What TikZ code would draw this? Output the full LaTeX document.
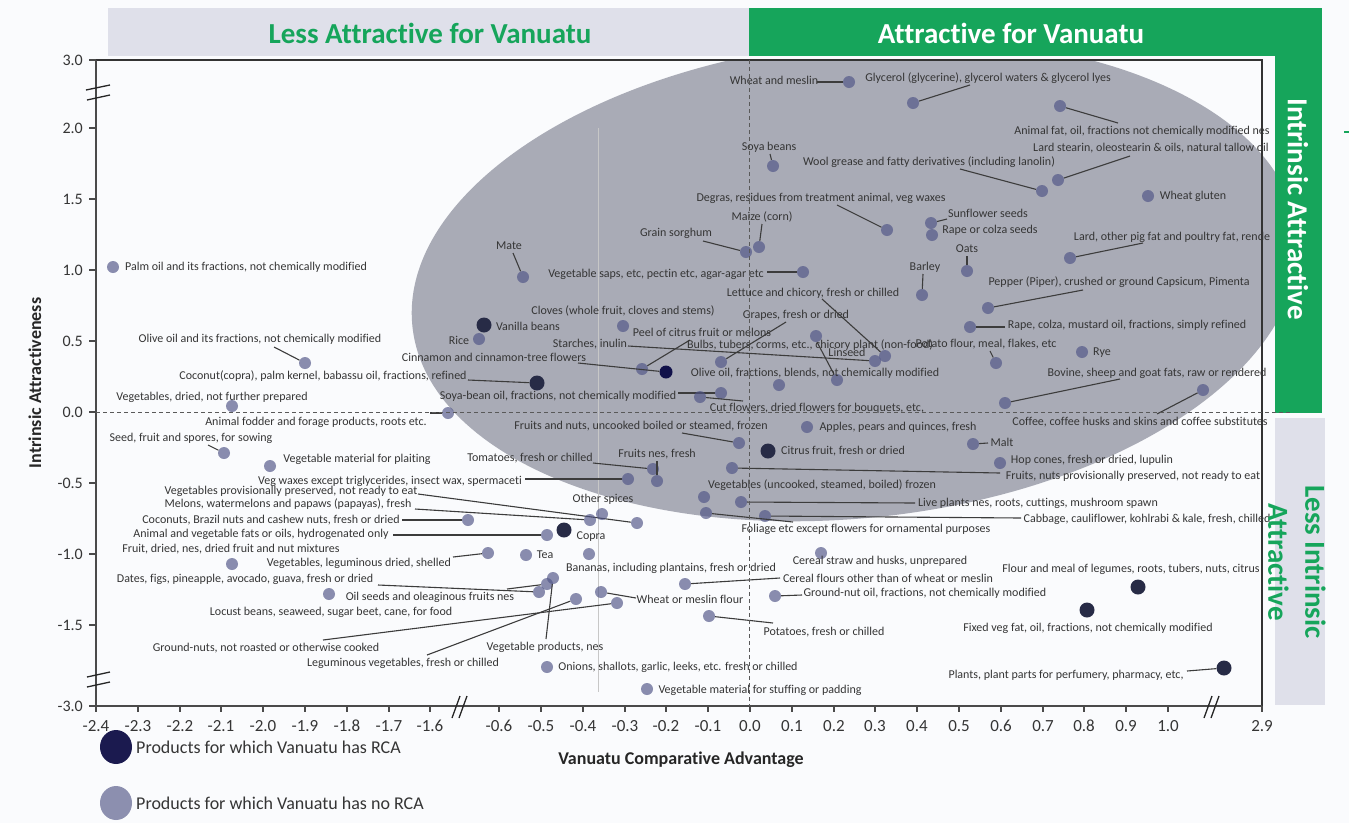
\documentclass[tikz,border=0pt]{standalone}
\usepackage{fontspec}
\setmainfont{Carlito}[Ligatures=NoCommon]
\usetikzlibrary{shapes.geometric}
\definecolor{bg}{HTML}{FAFBFD}
\definecolor{band}{HTML}{DFE0EA}
\definecolor{vgreen}{HTML}{16A55B}
\definecolor{ellcol}{HTML}{A9ABB6}
\definecolor{gpcol}{RGB}{79,84,134}
\definecolor{dpcol}{HTML}{272B46}
\definecolor{navy}{HTML}{11114A}
\definecolor{txtcol}{HTML}{353535}
\definecolor{leadcol}{HTML}{3C3C3C}
\definecolor{axcol}{HTML}{4A4A4A}
\definecolor{legdark}{HTML}{1B1A4F}
\definecolor{leglight}{HTML}{8C8FAF}
% one product: name, marker style, marker position, label centre, label text
\newcommand\mkprod[5]{\node[#2] (#1) at (#3) {}; \node[lbl] (#1-t) at (#4) {#5};}
% leader from a point beside the label to the marker
\newcommand\mklead[2]{\coordinate (#1-e) at (#2); \draw[lead] (#1-e) -- (#1);}
\begin{document}
\begin{tikzpicture}[x=1pt,y=-1pt,
  gp/.style={circle,fill=gpcol,fill opacity=0.66,minimum size=12pt,inner sep=0pt},
  dp/.style={circle,fill=dpcol,minimum size=15pt,inner sep=0pt},
  navyp/.style={circle,fill=navy,minimum size=13pt,inner sep=0pt},
  lbl/.style={text=txtcol,font=\fontsize{12}{14}\selectfont,inner sep=0pt},
  lead/.style={draw=leadcol,line width=1.1pt},
  axisln/.style={draw=axcol,line width=1.8pt},
  frame/.style={draw=black!80,line width=1.6pt},
  brk/.style={draw=black!85,line width=1.3pt},
  ytick/.style={text=txtcol,font=\fontsize{16}{19}\selectfont,inner sep=0pt,anchor=east},
  xtick/.style={text=txtcol,font=\fontsize{17}{20}\selectfont,inner sep=0pt},
  axtitle/.style={text=black!85,font=\bfseries\fontsize{18}{21}\selectfont,inner sep=0pt},
  bigtitle/.style={font=\bfseries\fontsize{29}{37}\selectfont,inner sep=0pt},
  legtext/.style={anchor=west,text=txtcol,font=\fontsize{18}{21}\selectfont,inner sep=0pt},
  legmark/.style={ellipse,minimum width=32pt,minimum height=34pt,inner sep=0pt},
  zeroline/.style={draw=black!65,line width=1pt,dash pattern=on 4pt off 3pt}]
\useasboundingbox (0,0) rectangle (1349,823);
\fill[bg] (0,0) rectangle (1349,823);

% header bands
\fill[band] (108,8) rectangle (749,56);
\fill[vgreen] (749,8) rectangle (1322,56);
\node[bigtitle,text=vgreen] (hdrL) at (430,33) {Less Attractive for Vanuatu};
\node[bigtitle,text=white] (hdrR) at (1011,33) {Attractive for Vanuatu};

% shaded region of attractive products
\begin{scope}
  \clip (96,60) rectangle (1275,706);
  \fill[ellcol,rotate around={6:(855,280)}] (855,280) ellipse [x radius=445, y radius=238];
\end{scope}
\draw[draw=black!22,line width=0.8pt] (598,128) -- (598,692);

% frame and axes
\draw[frame] (96,60) -- (1262,60) -- (1262,706);
\draw[axisln] (96,60) -- (96,706) -- (1262,706);
\foreach \v/\y [count=\i] in {3.0/60,2.0/128,1.5/199,1.0/270,0.5/341,0.0/412,-0.5/483,-1.0/554,-1.5/625,-3.0/706}{
  \draw[axisln,line width=1.3pt] (89,\y) -- (96,\y);
  \node[ytick] (yt\i) at (83,\y) {\v};
}
\foreach \v/\x [count=\i] in {-2.4/96,-2.3/138,-2.2/180,-2.1/221,-2.0/263,-1.9/305,-1.8/347,-1.7/389,-1.6/430,
  -0.6/499,-0.5/541,-0.4/583,-0.3/625,-0.2/666,-0.1/708,0.0/750,0.1/792,0.2/834,0.3/875,0.4/917,
  0.5/959,0.6/1001,0.7/1043,0.8/1084,0.9/1126,1.0/1168,2.9/1262}{
  \draw[axisln,line width=1.3pt] (\x,706) -- (\x,712);
  \node[xtick] (xt\i) at (\x,726) {\v};
}
% axis breaks
\draw[brk] (86,90) -- (110,85);
\draw[brk] (87,100) -- (110,95);
\draw[brk] (87,677) -- (110,672);
\draw[brk] (87,687) -- (110,682);
\draw[brk] (452,718) -- (460,696);
\draw[brk] (459,718) -- (467,696);
\draw[brk] (1204,718) -- (1212,696);
\draw[brk] (1211,718) -- (1219,696);

% axis titles
\node[axtitle,rotate=90] (ytitle) at (35,383) {Intrinsic Attractiveness};
\node[axtitle] (xtitle) at (681,760) {Vanuatu Comparative Advantage};

% products
\mkprod{p1}{gp}{849,82}{774,80}{Wheat and meslin} \mklead{p1}{817,82}
\mkprod{p2}{gp}{913,103}{988,78}{Glycerol (glycerine), glycerol waters \& glycerol lyes} \mklead{p2}{970,85}
\mkprod{p3}{gp}{1060,106}{1142,131}{Animal fat, oil, fractions not chemically modified nes} \mklead{p3}{1118,123}
\mkprod{p4}{gp}{773,166}{769,147}{Soya beans} \mklead{p4}{770,154}
\mkprod{p5}{gp}{1042,191}{929,162}{Wool grease and fatty derivatives (including lanolin)} \mklead{p5}{960,169}
\mkprod{p6}{gp}{1058,180}{1151,148}{Lard stearin, oleostearin \& oils, natural tallow oil} \mklead{p6}{1130,156}
\mkprod{p7}{gp}{1148,196}{1193,196}{Wheat gluten}
\mkprod{p8}{gp}{887,230}{821,198}{Degras, residues from treatment animal, veg waxes} \mklead{p8}{837,205}
\mkprod{p9}{gp}{931,223}{988,213}{Sunflower seeds} \mklead{p9}{947,219}
\mkprod{p10}{gp}{932,235}{990,230}{Rape or colza seeds}
\mkprod{p11}{gp}{1070,258}{1172,237}{Lard, other pig fat and poultry fat, rende} \mklead{p11}{1143,243}
\mkprod{p12}{gp}{759,247}{762,217}{Maize (corn)} \mklead{p12}{762,224}
\mkprod{p13}{gp}{746,252}{676,233}{Grain sorghum} \mklead{p13}{703,241}
\mkprod{p14}{gp}{523,277}{509,246}{Mate} \mklead{p14}{513,253}
\mkprod{p15}{gp}{803,272}{656,274}{Vegetable saps, etc, pectin etc, agar-agar etc} \mklead{p15}{767,272}
\mkprod{p16}{gp}{967,271}{967,249}{Oats} \mklead{p16}{967,256}
\mkprod{p17}{gp}{922,295}{925,267}{Barley} \mklead{p17}{923,274}
\mkprod{p18}{gp}{885,356}{813,293}{Lettuce and chicory, fresh or chilled} \mklead{p18}{822,299}
\mkprod{p19}{gp}{988,308}{1119,282}{Pepper (Piper), crushed or ground Capsicum, Pimenta} \mklead{p19}{1083,290}
\mkprod{p20}{gp}{113,267}{246,267}{Palm oil and its fractions, not chemically modified}
\mkprod{p21}{gp}{970,327}{1127,325}{Rape, colza, mustard oil, fractions, simply refined} \mklead{p21}{1005,327}
\mkprod{p22}{gp}{996,363}{986,344}{Potato flour, meal, flakes, etc} \mklead{p22}{990,351}
\mkprod{p23}{gp}{1082,352}{1102,353}{Rye}
\mkprod{p24}{gp}{1005,403}{1157,373}{Bovine, sheep and goat fats, raw or rendered} \mklead{p24}{1120,379}
\mkprod{p25}{gp}{1203,390}{1140,422}{Coffee, coffee husks and skins and coffee substitutes} \mklead{p25}{1157,414}
\mkprod{p26}{gp}{973,444}{1002,442}{Malt} \mklead{p26}{988,443}
\mkprod{p27}{gp}{1000,463}{1092,460}{Hop cones, fresh or dried, lupulin}
\mkprod{p28}{gp}{732,468}{1133,476}{Fruits, nuts provisionally preserved, not ready to eat} \mklead{p28}{1000,473}
\mkprod{p29}{gp}{704,497}{822,485}{Vegetables (uncooked, steamed, boiled) frozen}
\mkprod{p30}{gp}{741,502}{1038,503}{Live plants nes, roots, cuttings, mushroom spawn} \mklead{p30}{915,503}
\mkprod{p31}{gp}{765,516}{1147,519}{Cabbage, cauliflower, kohlrabi \& kale, fresh, chilled} \mklead{p31}{1021,518}
\mkprod{p32}{gp}{706,513}{866,529}{Foliage etc except flowers for ornamental purposes} \mklead{p32}{793,522}
\mkprod{p33}{gp}{623,326}{623,311}{Cloves (whole fruit, cloves and stems)}
\mkprod{p34}{dp}{484,325}{528,326}{Vanilla beans}
\mkprod{p35}{gp}{479,339}{459,340}{Rice}
\mkprod{p36}{gp}{721,362}{796,315}{Grapes, fresh or dried} \mklead{p36}{786,322}
\mkprod{p37}{gp}{642,369}{702,332}{Peel of citrus fruit or melons} \mklead{p37}{690,340}
\mkprod{p38}{gp}{875,361}{590,344}{Starches, inulin} \mklead{p38}{628,346}
\mkprod{p39}{gp}{816,336}{810,345}{Bulbs, tubers, corms, etc., chicory plant (non-food)}
\mkprod{p40}{gp}{837,380}{847,352}{Linseed} \mklead{p40}{817,342}
\mkprod{p41}{navyp}{666,372}{494,357}{Cinnamon and cinnamon-tree flowers} \mklead{p41}{578,363}
\mkprod{p42}{dp}{537,383}{323,376}{Coconut(copra), palm kernel, babassu oil, fractions, refined} \mklead{p42}{468,380}
\mkprod{p43}{gp}{305,363}{260,339}{Olive oil and its fractions, not chemically modified} \mklead{p43}{274,347}
\mkprod{p44}{gp}{779,385}{815,373}{Olive oil, fractions, blends, not chemically modified}
\mkprod{p45}{gp}{721,393}{558,396}{Soya-bean oil, fractions, not chemically modified} \mklead{p45}{678,393}
\mkprod{p46}{gp}{700,397}{817,408}{Cut flowers, dried flowers for bouquets, etc,} \mklead{p46}{743,401}
\mkprod{p47}{gp}{448,413}{316,422}{Animal fodder and forage products, roots etc.} \mklead{p47}{430,413}
\mkprod{p48}{gp}{232,406}{212,397}{Vegetables, dried, not further prepared}
\mkprod{p49}{gp}{739,443}{641,426}{Fruits and nuts, uncooked boiled or steamed, frozen} \mklead{p49}{682,433}
\mkprod{p50}{gp}{807,427}{898,427}{Apples, pears and quinces, fresh}
\mkprod{p51}{dp}{768,451}{843,451}{Citrus fruit, fresh or dried}
\mkprod{p52}{gp}{224,453}{191,438}{Seed, fruit and spores, for sowing} \mklead{p52}{208,445}
\mkprod{p53}{gp}{270,466}{357,459}{Vegetable material for plaiting}
\mkprod{p54}{gp}{653,469}{530,458}{Tomatoes, fresh or chilled} \mklead{p54}{593,463}
\mkprod{p55}{gp}{657,481}{657,454}{Fruits nes, fresh} \mklead{p55}{657,461}
\mkprod{p56}{gp}{628,479}{390,481}{Veg waxes except triglycerides, insect wax, spermaceti} \mklead{p56}{525,479}
\mkprod{p57}{gp}{637,523}{291,491}{Vegetables provisionally preserved, not ready to eat} \mklead{p57}{418,494}
\mkprod{p58}{gp}{590,520}{288,504}{Melons, watermelons and papaws (papayas), fresh} \mklead{p58}{415,509}
\mkprod{p59}{gp}{602,514}{603,499}{Other spices}
\mkprod{p60}{gp}{468,520}{271,520}{Coconuts, Brazil nuts and cashew nuts, fresh or dried} \mklead{p60}{402,520}
\mkprod{p61}{gp}{547,535}{261,534}{Animal and vegetable fats or oils, hydrogenated only} \mklead{p61}{393,535}
\mkprod{p62}{dp}{564,530}{591,537}{Copra}
\mkprod{p63}{gp}{232,564}{231,549}{Fruit, dried, nes, dried fruit and nut mixtures}
\mkprod{p64}{gp}{488,553}{359,563}{Vegetables, leguminous dried, shelled} \mklead{p64}{453,557}
\mkprod{p65}{gp}{526,555}{545,555}{Tea}
\mkprod{p66}{gp}{589,554}{671,568}{Bananas, including plantains, fresh or dried}
\mkprod{p67}{gp}{539,592}{245,579}{Dates, figs, pineapple, avocado, guava, fresh or dried} \mklead{p67}{378,585}
\mkprod{p68}{gp}{547,584}{430,597}{Oil seeds and oleaginous fruits nes} \mklead{p68}{507,589}
\mkprod{p69}{gp}{329,594}{331,612}{Locust beans, seaweed, sugar beet, cane, for food}
\mkprod{p70}{gp}{553,578}{545,647}{Vegetable products, nes} \mklead{p70}{546,639}
\mkprod{p71}{gp}{576,599}{403,663}{Leguminous vegetables, fresh or chilled} \mklead{p71}{427,655}
\mkprod{p72}{gp}{617,603}{266,648}{Ground-nuts, not roasted or otherwise cooked} \mklead{p72}{323,640}
\mkprod{p73}{gp}{601,592}{690,599}{Wheat or meslin flour} \mklead{p73}{636,598}
\mkprod{p74}{gp}{547,667}{678,667}{Onions, shallots, garlic, leeks, etc. fresh or chilled}
\mkprod{p75}{gp}{647,689}{760,690}{Vegetable material for stuffing or padding}
\mkprod{p76}{gp}{685,584}{888,578}{Cereal flours other than of wheat or meslin} \mklead{p76}{780,578}
\mkprod{p77}{gp}{775,596}{925,593}{Ground-nut oil, fractions, not chemically modified} \mklead{p77}{802,595}
\mkprod{p78}{gp}{709,616}{824,632}{Potatoes, fresh or chilled} \mklead{p78}{773,623}
\mkprod{p79}{gp}{821,553}{880,561}{Cereal straw and husks, unprepared}
\mkprod{p80}{dp}{1138,587}{1131,569}{Flour and meal of legumes, roots, tubers, nuts, citrus}
\mkprod{p81}{dp}{1087,610}{1088,628}{Fixed veg fat, oil, fractions, not chemically modified}
\mkprod{p82}{dp}{1224,668}{1066,675}{Plants, plant parts for perfumery, pharmacy, etc,} \mklead{p82}{1187,671}

% side bands
\fill[vgreen] (1275,56) rectangle (1322,413);
\fill[band] (1275,418) rectangle (1325,705);
\node[bigtitle,text=white,rotate=-90] (sideA) at (1298,209) {Intrinsic Attractive};
\node[bigtitle,text=vgreen,rotate=-90,align=center] (sideB) at (1297,562) {Less Intrinsic\\Attractive};
\draw[vgreen,line width=1.5pt] (1344,132) -- (1349,132);

% reference lines through zero
\draw[zeroline] (96,412) -- (1293,412);
\draw[zeroline] (749,60) -- (749,706);

% legend
\node[legmark,fill=legdark] (lgA) at (116,747) {};
\node[legtext] (lgAt) at (136,747) {Products for which Vanuatu has RCA};
\node[legmark,fill=leglight] (lgB) at (116,803) {};
\node[legtext] (lgBt) at (136,803) {Products for which Vanuatu has no RCA};
\end{tikzpicture}
\end{document}
